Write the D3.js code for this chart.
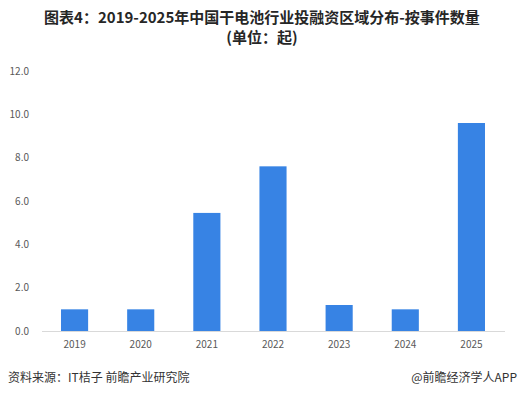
<!DOCTYPE html>
<html>
<head>
<meta charset="utf-8">
<script src="https://cdn.jsdelivr.net/npm/d3@7"></script>
<style>
  body { margin: 0; background: #fff; }
  svg { display: block; font-family: "Microsoft YaHei", "Noto Sans CJK SC", sans-serif; }
</style>
</head>
<body>
<svg id="chart" width="524" height="398"></svg>
<script>
const years = ['2019', '2020', '2021', '2022', '2023', '2024', '2025']
const counts = [1.0, 1.0, 5.45, 7.6, 1.2, 1.0, 9.6]
const yTicks = [0, 2, 4, 6, 8, 10, 12]

const svg = d3.select('#chart')
const width = 524

// title, two lines
const titleLines = ['图表4：2019-2025年中国干电池行业投融资区域分布-按事件数量', '(单位：起)']
svg.append('g')
  .selectAll('text')
  .data(titleLines)
  .enter()
  .append('text')
  .attr('x', width / 2)
  .attr('y', (d, i) => 23 + i * 20)
  .attr('text-anchor', 'middle')
  .attr('font-size', '15px').attr('font-weight', 'bold')
  .attr('fill', '#262626')
  .text((d) => d)

const x = d3.scaleBand()
  .domain(years)
  .range([41.5, 504.5])
  .paddingInner(0.59)
  .paddingOuter(0.295)

const y = d3.scaleLinear()
  .domain([0, 12])
  .range([331, 71])

// y labels
svg.append('g')
  .selectAll('text')
  .data(yTicks)
  .enter()
  .append('text')
  .attr('x', 29)
  .attr('y', (d) => y(d))
  .attr('dy', '0.35em')
  .attr('text-anchor', 'end')
  .attr('font-size', '10px')
  .attr('fill', '#595959')
  .text((d) => d.toFixed(1))

// bars
svg.append('g')
  .selectAll('rect')
  .data(counts)
  .enter()
  .append('rect')
  .attr('x', (d, i) => x(years[i]))
  .attr('width', x.bandwidth())
  .attr('y', (d) => y(d))
  .attr('height', (d) => y(0) - y(d))
  .attr('fill', '#3783e4')

// x axis
const xAxis = svg.append('g')
  .attr('transform', `translate(0,${y(0)})`)
  .call(d3.axisBottom(x).tickSize(0).tickPadding(10))
xAxis.select('.domain').attr('stroke', '#d9d9d9')
xAxis.selectAll('text')
  .attr('font-size', '10px')
  .attr('fill', '#595959')
  .attr('font-family', '"Microsoft YaHei", "Noto Sans CJK SC", sans-serif')

// footer
svg.append('text')
  .attr('x', 8).attr('y', 382)
  .attr('font-size', '12px')
  .attr('fill', '#333')
  .text('资料来源：IT桔子 前瞻产业研究院')
svg.append('text')
  .attr('x', 517).attr('y', 382)
  .attr('text-anchor', 'end')
  .attr('font-size', '12px')
  .attr('fill', '#333')
  .text('@前瞻经济学人APP')
</script>
</body>
</html>
